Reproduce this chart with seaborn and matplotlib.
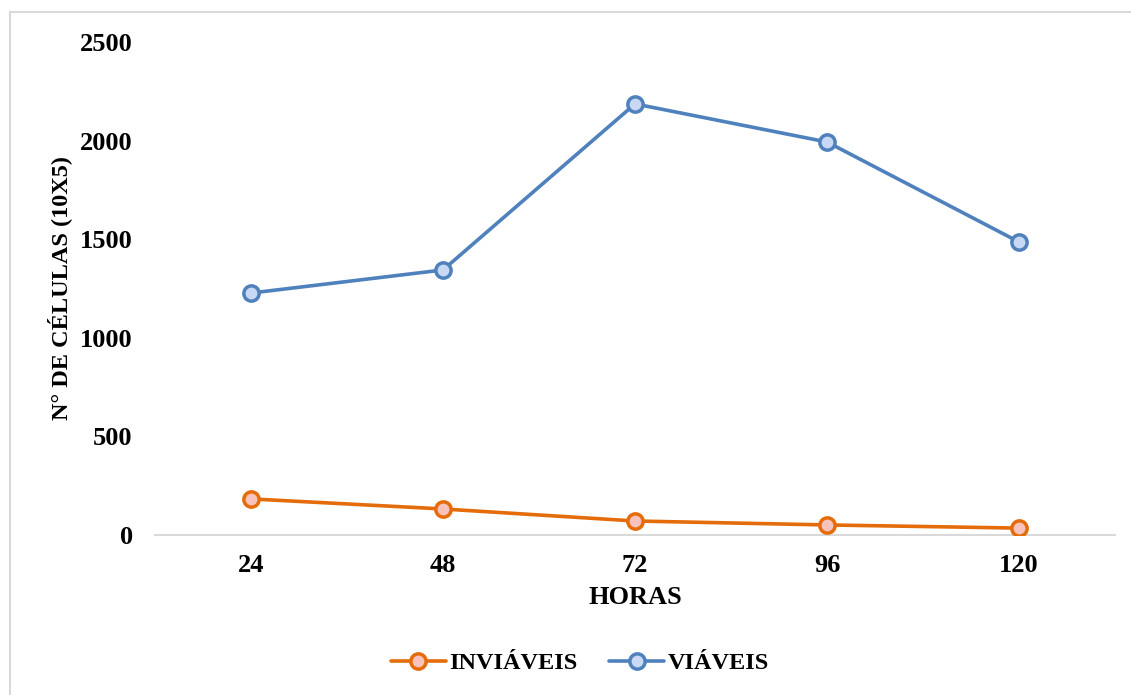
import matplotlib
matplotlib.use("Agg")
import matplotlib.pyplot as plt
from matplotlib.lines import Line2D
import seaborn as sns
import pandas as pd

# Cell counts over time
horas = ["24", "48", "72", "96", "120"]
viaveis = [1227, 1344, 2186, 1993, 1486]
inviaveis = [183, 132, 71, 51, 35]

sns.set_theme(style="white")
plt.rcParams["font.family"] = ["Liberation Serif", "DejaVu Serif"]
plt.rcParams["font.weight"] = "bold"
plt.rcParams["text.color"] = "black"
plt.rcParams["axes.labelcolor"] = "black"
plt.rcParams["xtick.color"] = "black"
plt.rcParams["ytick.color"] = "black"

orange = "#E46C0A"
orange_face = "#F9C3BD"
blue = "#4F81BD"
blue_face = "#C9D9F5"
FS = 19
FS_SMALL = 17.5

fig = plt.figure(figsize=(11.31, 6.95), dpi=100)
ax = fig.add_axes([155 / 1131, 1 - 535 / 695, (1115 - 155) / 1131, (535 - 42) / 695])

df = pd.DataFrame({"HORAS": horas, "INVIÁVEIS": inviaveis, "VIÁVEIS": viaveis})

LW = 2.6
style = dict(linewidth=LW, marker="o", markersize=11, markeredgewidth=2.5, sort=False)
sns.lineplot(data=df, x="HORAS", y="INVIÁVEIS", ax=ax, color=orange,
             markerfacecolor=orange_face, markeredgecolor=orange, zorder=3, **style)
sns.lineplot(data=df, x="HORAS", y="VIÁVEIS", ax=ax, color=blue,
             markerfacecolor=blue_face, markeredgecolor=blue, zorder=3, **style)

ax.set_xlim(-0.5, len(horas) - 0.5)
ax.set_ylim(0, 2500)
ax.set_yticks([0, 500, 1000, 1500, 2000, 2500])
ax.tick_params(axis="x", length=0, labelsize=FS, pad=14)
ax.tick_params(axis="y", length=0, labelsize=FS, pad=16)
for lab in ax.get_xticklabels() + ax.get_yticklabels():
    lab.set_fontweight("bold")

for side in ["top", "right", "left"]:
    ax.spines[side].set_visible(False)
ax.spines["bottom"].set_color("#D9D9D9")
ax.spines["bottom"].set_linewidth(1.5)
ax.spines["bottom"].set_zorder(1)

ax.set_xlabel("HORAS", fontsize=FS, fontweight="bold")
ax.set_ylabel("N° DE CÉLULAS (10X5)", fontsize=FS_SMALL, fontweight="bold")
ax.xaxis.set_label_coords(0.5, -(598 - 535) / 493)
ax.yaxis.set_label_coords(-(155 - 60) / 960, 0.5)
ax.xaxis.label.set_va("center")
ax.yaxis.label.set_va("center")

handles = [
    Line2D([], [], color=orange, linewidth=LW, marker="o", markersize=11,
           markeredgewidth=2.5, markerfacecolor=orange_face, markeredgecolor=orange),
    Line2D([], [], color=blue, linewidth=LW, marker="o", markersize=11,
           markeredgewidth=2.5, markerfacecolor=blue_face, markeredgecolor=blue),
]
fig.legend(handles, ["INVIÁVEIS", "VIÁVEIS"], loc="center", bbox_to_anchor=(580 / 1131, 1 - 663 / 695),
           ncol=2, frameon=False, prop={"size": FS_SMALL, "weight": "bold"},
           handlelength=2.25, handletextpad=0.15, columnspacing=1.3)

# chart-area border
fig.add_artist(Line2D([10 / 1131, 10 / 1131], [-0.01, 1 - 12 / 695], color="#D9D9D9", linewidth=1.5))
fig.add_artist(Line2D([10 / 1131, 1.01], [1 - 12 / 695, 1 - 12 / 695], color="#D9D9D9", linewidth=1.5))

fig.savefig("out.png", dpi=100, facecolor="white")
